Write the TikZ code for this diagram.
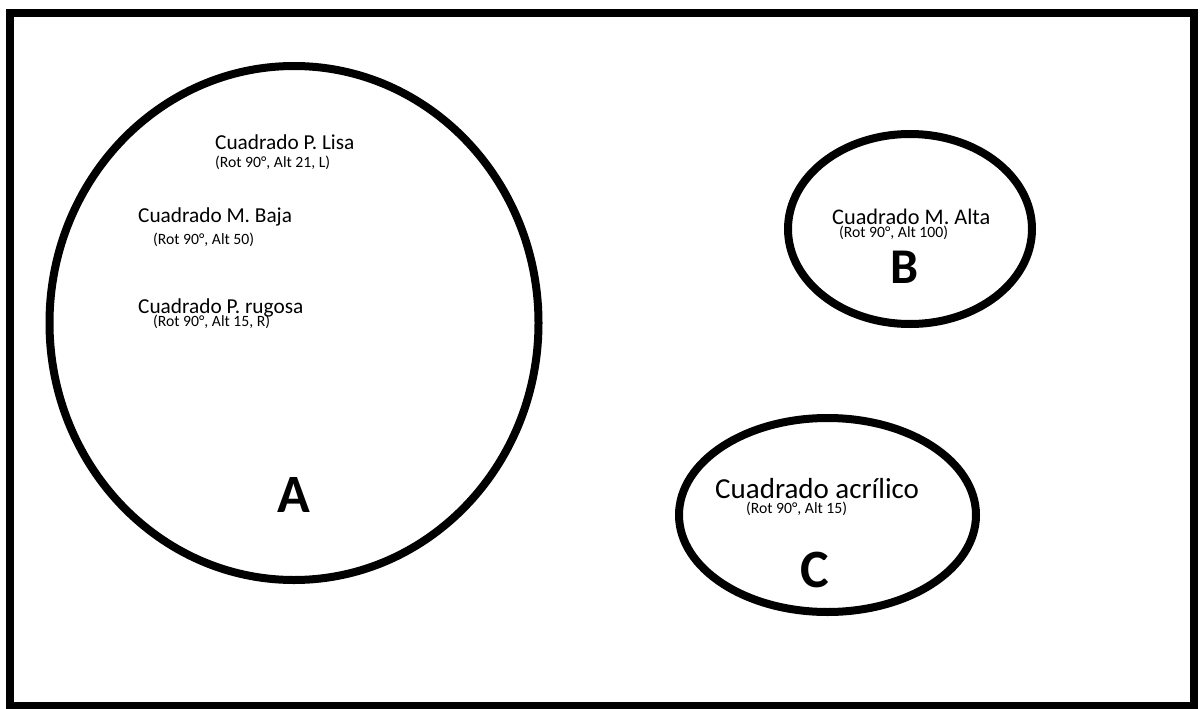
\documentclass[tikz,border=0pt]{standalone}
\usepackage{fontspec}
\setmainfont{Carlito}
\tikzset{
    grupo/.style={line width=8pt, black},
    nombre/.style={anchor=base west, inner sep=0pt, font=\fontsize{21.3}{25}\selectfont},
    detalle/.style={anchor=base west, inner sep=0pt, font=\fontsize{15.7}{18}\selectfont},
    letra/.style={anchor=base west, inner sep=0pt, font=\fontsize{54}{60}\selectfont\bfseries}
}
\begin{document}
\begin{tikzpicture}[x=1pt, y=-1pt]
                    \useasboundingbox (0,0) rectangle (1200,709);
                    \draw[grupo] (9.5,13) rectangle (1194,706);
                    % grupo A
                    \draw[grupo] (294,323) ellipse (244.5 and 257);
                    \node[nombre] (lisa) at (215,149) {Cuadrado P. Lisa};
                    \node[detalle] (lisadet) at (215,167) {(Rot 90°, Alt 21, L)};
                    \node[nombre] (baja) at (138,222) {Cuadrado M. Baja};
                    \node[detalle] (bajadet) at (153,244) {(Rot 90°, Alt 50)};
                    \node[nombre] (rugosa) at (138,313) {Cuadrado P. rugosa};
                    \node[detalle] (rugosadet) at (153,326) {(Rot 90°, Alt 15, R)};
                    \node[letra] (letraA) at (277,512) {A};
                    % grupo B
                    \draw[grupo] (910,229) ellipse (122 and 95);
                    \node[nombre, font=\fontsize{22.3}{26}\selectfont] (alta) at (832,224) {Cuadrado M. Alta};
                    \node[detalle] (altadet) at (839,237) {(Rot 90°, Alt 100)};
                    \node[letra, font=\fontsize{50}{56}\selectfont\bfseries] (letraB) at (890,283) {B};
                    % grupo C
                    \draw[grupo] (827.5,515) ellipse (148.5 and 97);
                    \node[nombre, font=\fontsize{29}{33}\selectfont] (acrilico) at (715,498) {Cuadrado acrílico};
                    \node[detalle] (acrilicodet) at (746,513) {(Rot 90°, Alt 15)};
                    \node[letra] (letraC) at (800,587) {C};
                \end{tikzpicture}
\end{document}
